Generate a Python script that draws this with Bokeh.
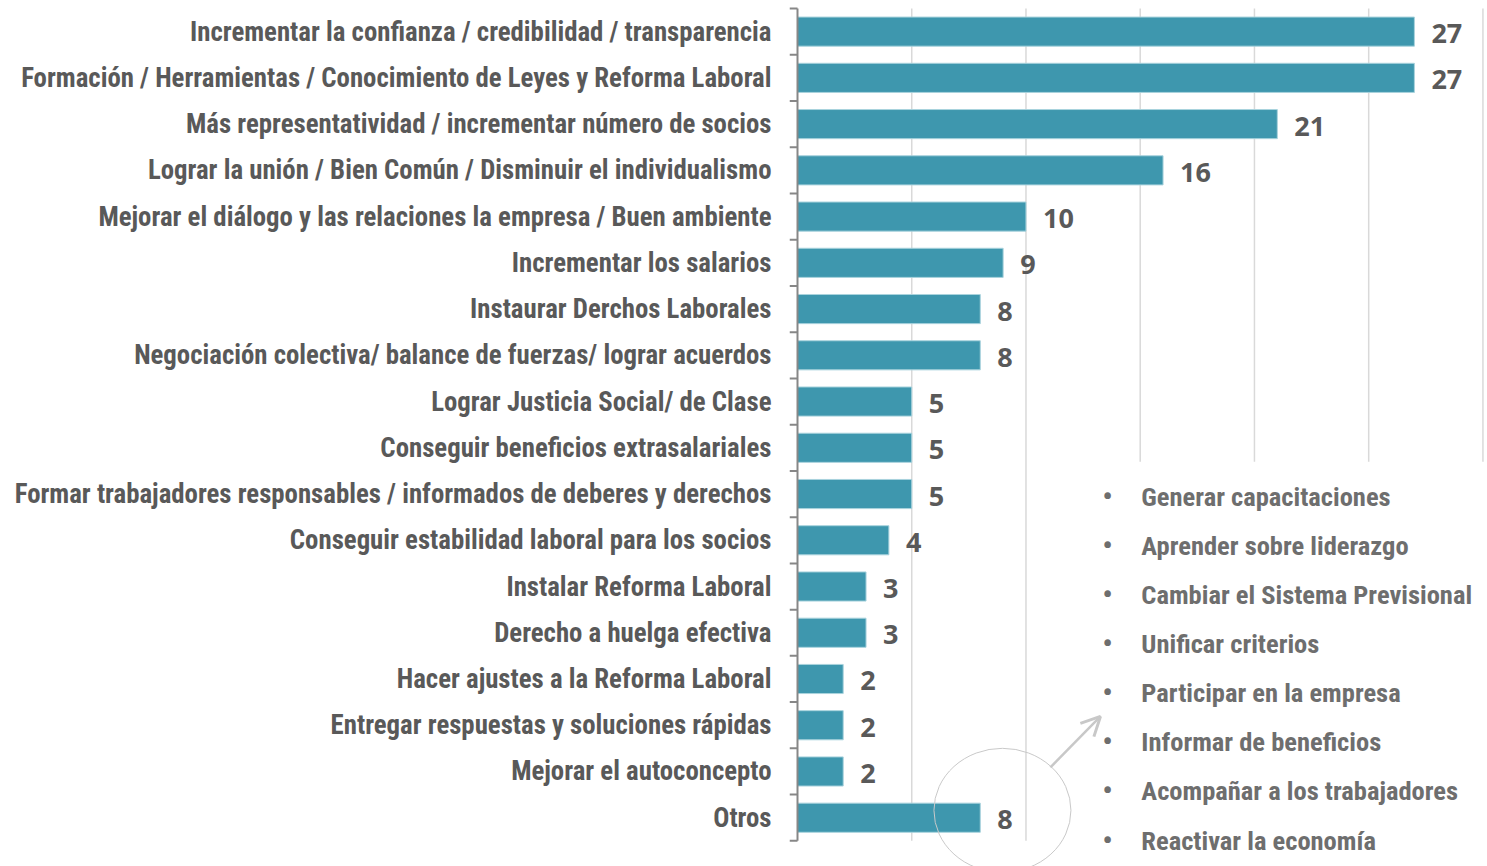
import numpy as np
from bokeh.plotting import figure
from bokeh.models import Range1d, FixedTicker, Arrow, OpenHead
from bokeh.core.properties import value
from bokeh.embed import file_html
from bokeh.resources import INLINE

categories = [
    "Incrementar la confianza / credibilidad / transparencia",
    "Formación / Herramientas / Conocimiento de Leyes y Reforma Laboral",
    "Más representatividad / incrementar número de socios",
    "Lograr la unión / Bien Común / Disminuir el individualismo",
    "Mejorar el diálogo y las relaciones la empresa / Buen ambiente",
    "Incrementar los salarios",
    "Instaurar Derchos Laborales",
    "Negociación colectiva/ balance de fuerzas/ lograr acuerdos",
    "Lograr Justicia Social/ de Clase",
    "Conseguir beneficios extrasalariales",
    "Formar trabajadores responsables / informados de deberes y derechos",
    "Conseguir estabilidad laboral para los socios",
    "Instalar Reforma Laboral",
    "Derecho a huelga efectiva",
    "Hacer ajustes a la Reforma Laboral",
    "Entregar respuestas y soluciones rápidas",
    "Mejorar el autoconcepto",
    "Otros",
]
values = [27, 27, 21, 16, 10, 9, 8, 8, 5, 5, 5, 4, 3, 3, 2, 2, 2, 8]
otros_detalle = [
    "Generar capacitaciones",
    "Aprender sobre liderazgo",
    "Cambiar el Sistema Previsional",
    "Unificar criterios",
    "Participar en la empresa",
    "Informar de beneficios",
    "Acompañar a los trabajadores",
    "Reactivar la economía",
]
grid_values = [5, 10, 15, 20, 25, 30]

FONT = "Roboto Condensed"
LABEL_COLOR = "#595959"
LIST_COLOR = "#6e6e6e"
BAR_COLOR = "#3e97ae"
AXIS_COLOR = "#878787"
GRID_COLOR = "#d9d9d9"

n = len(categories)
idx = np.arange(n)

p = figure(width=1487, height=866, output_backend="svg", toolbar_location=None,
           x_range=Range1d(-0.35, 30.2), y_range=Range1d(18.055, -0.673),
           x_axis_location=None,
           min_border_left=789, min_border_right=0, min_border_top=0, min_border_bottom=0)
p.outline_line_color = None
p.xgrid.visible = False
p.ygrid.visible = False
p.background_fill_color = "white"

ax = p.yaxis[0]
ax.ticker = FixedTicker(ticks=list(range(n)))
ax.major_label_overrides = {i: c for i, c in enumerate(categories)}
ax.axis_line_color = None
ax.major_tick_line_color = None
ax.minor_tick_line_color = None
ax.major_tick_in = 0
ax.major_tick_out = 0
ax.major_label_standoff = 18
ax.major_label_text_font = FONT
ax.major_label_text_font_style = "bold"
ax.major_label_text_font_size = "26.8px"
ax.major_label_text_color = LABEL_COLOR

# vertical gridlines (within category band)
p.segment(x0=grid_values, y0=-0.5, x1=grid_values, y1=n - 0.5,
          line_color=GRID_COLOR, line_width=1.5)

# white panel behind the "Otros" detail list
p.quad(left=12, right=31, top=9.3, bottom=19, fill_color="white", line_color=None)

# bars
p.hbar(y=idx, left=0, right=values, height=0.63,
       fill_color=BAR_COLOR, line_color="#a9d3dd", line_width=1)

# axis line and category boundary ticks
p.segment(x0=0, y0=-0.5, x1=0, y1=n - 0.5, line_color=AXIS_COLOR, line_width=2)
bounds = np.arange(n + 1) - 0.5
p.segment(x0=-0.35, y0=bounds, x1=0, y1=bounds, line_color=AXIS_COLOR, line_width=2)

# value labels
p.text(x=values, y=idx, text=[str(v) for v in values], x_offset=17, y_offset=2,
       text_baseline="middle", text_align="left",
       text_font=value("Open Sans"), text_font_style="bold",
       text_font_size="27px", text_color=LABEL_COLOR)

# detail list for "Otros"
list_y = 10.05 + np.arange(len(otros_detalle)) * 1.062
p.text(x=13.57, y=list_y, text=["•"] * len(otros_detalle),
       text_baseline="middle", text_align="center",
       text_font=value(FONT), text_font_style="bold",
       text_font_size="28px", text_color=LIST_COLOR)
p.text(x=15.05, y=list_y, text=otros_detalle,
       text_baseline="middle", text_align="left",
       text_font=value(FONT), text_font_style="bold",
       text_font_size="26.5px", text_color=LIST_COLOR)

# circle around "Otros" and arrow to the list
p.ellipse(x=8.97, y=16.84, width=137, height=124, width_units="screen",
          height_units="screen", fill_color=None, line_color="#c9c9c9", line_width=1)
p.add_layout(Arrow(end=OpenHead(size=19, line_color="#c8c8c8", line_width=3),
                   x_start=11.07, y_start=15.91, x_end=13.26, y_end=14.81,
                   line_color="#c8c8c8", line_width=2.5))

open("out.html", "w").write(file_html(p, INLINE))
